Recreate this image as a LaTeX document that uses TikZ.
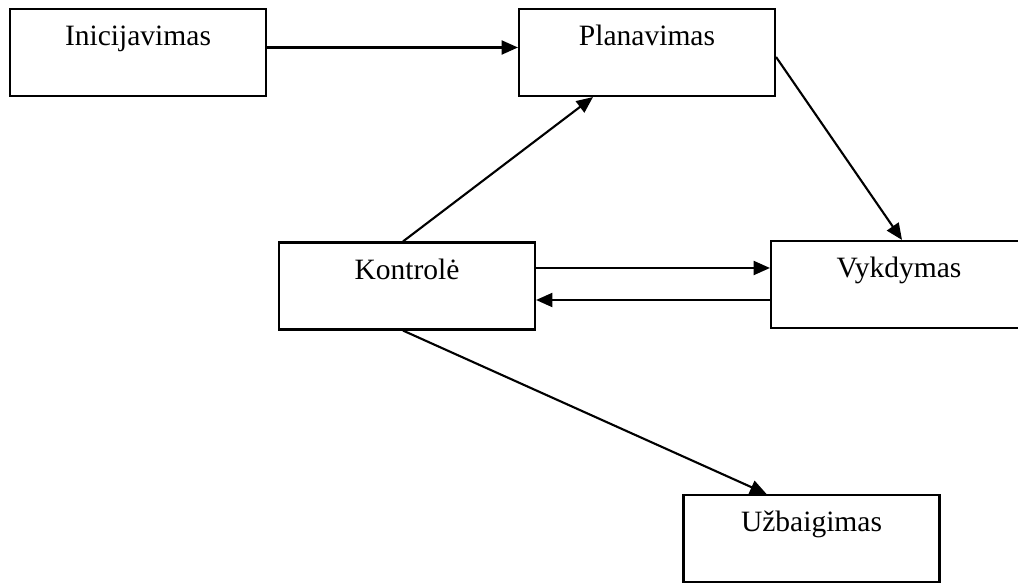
\documentclass[tikz,border=0pt]{standalone}
\usepackage{fontspec}
\setmainfont{Liberation Serif}
\usetikzlibrary{arrows.meta}

\tikzset{
  stage/.style={draw, line width=0.9pt, minimum width=256*0.015cm, minimum height=87*0.015cm, inner sep=0pt},
  stagetext/.style={anchor=base, yshift=-38*0.015cm},
  flow/.style={line width=0.9pt, -{Triangle[length=7pt, width=6pt]}}
}

\begin{document}
\begin{tikzpicture}[x=0.015cm, y=-0.015cm, font=\fontsize{12.6}{15}\selectfont]
\useasboundingbox (0,0) rectangle (1018,584);
\node[stage, label={[stagetext]north:Inicijavimas}] (ini) at (138,52.5) {};
\node[stage, label={[stagetext]north:Planavimas}] (plan) at (647,52.5) {};
\node[stage, label={[stagetext]north:Kontrolė}] (kontr) at (407,286) {};
\node[stage, label={[stagetext]north:Vykdymas}] (vyk) at (899,284.5) {};
\node[stage, label={[stagetext]north:Užbaigimas}] (uzb) at (811.5,538.5) {};
\draw[flow] ([yshift=5*0.015cm]ini.east) -- ([yshift=5*0.015cm]plan.west);
\draw[flow] ([xshift=-4*0.015cm]kontr.north) -- ([xshift=-54*0.015cm]plan.south);
\draw[flow] ([yshift=-4.5*0.015cm]plan.east) -- ([xshift=3*0.015cm]vyk.north);
\draw[flow] ([yshift=18*0.015cm]kontr.east) -- ([yshift=18*0.015cm]kontr.east -| vyk.west);
\draw[flow] ([yshift=-14*0.015cm]kontr.east -| vyk.west) -- ([yshift=-14*0.015cm]kontr.east);
\draw[flow] ([xshift=-4*0.015cm]kontr.south) -- ([xshift=-45*0.015cm]uzb.north);
\end{tikzpicture}
\end{document}
